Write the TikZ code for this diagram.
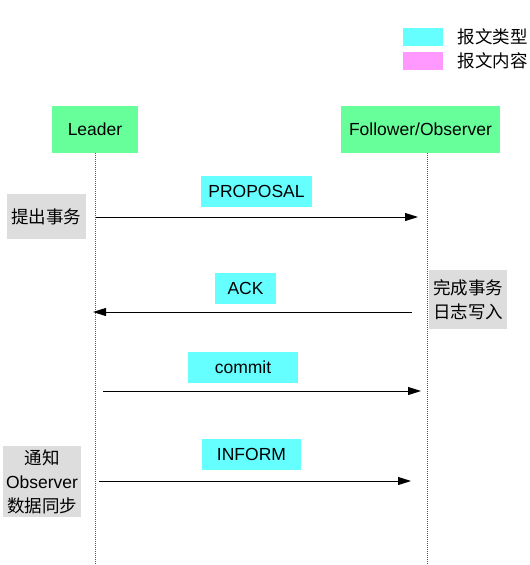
\documentclass[tikz,border=0pt]{standalone}
\usepackage{fontspec}
\setmainfont{Liberation Sans}
\newfontfamily\cjk{Noto Sans CJK SC}
\usetikzlibrary{arrows.meta}

\definecolor{actgreen}{HTML}{66FF99}
\definecolor{msgcyan}{HTML}{66FFFF}
\definecolor{msgpink}{HTML}{FF99FF}
\definecolor{notegray}{HTML}{DDDDDD}

\begin{document}
\begin{tikzpicture}[
  x=1pt, y=-1pt,
  font=\fontsize{17.5}{24}\selectfont,
  actor/.style={fill=actgreen, minimum width=86pt, minimum height=47pt, inner sep=0pt},
  msgbox/.style={fill=msgcyan, minimum height=31pt, inner sep=0pt},
  note/.style={fill=notegray, align=center, inner sep=0pt},
  legendkey/.style={minimum width=40pt, minimum height=18pt, inner sep=0pt},
  lifeline/.style={dash pattern=on 1pt off 1pt, gray!70!black, line width=0.8pt},
  msg/.style={-{Triangle[length=13pt,width=8pt]}, line width=0.9pt}
]
\useasboundingbox (0,0) rectangle (530,565);

% Legend
\node[legendkey, fill=msgcyan] (keytype) at (423,37) {};
\node[legendkey, fill=msgpink] (keycont) at (423,61) {};
\node[anchor=west] (keytypetxt) at (454,37) {\cjk 报文类型};
\node[anchor=west] (keyconttxt) at (454,61) {\cjk 报文内容};

% Actors
\node[actor] (leader) at (95,129.5) {Leader};
\node[actor, minimum width=159pt] (follower) at (420.5,129.5) {Follower/Observer};

% Lifelines
\coordinate (leadtop) at (95,153);
\coordinate (leadbot) at (95,565);
\coordinate (foltop) at (427,153);
\coordinate (folbot) at (427,565);
\draw[lifeline] (leadtop) -- (leadbot);
\draw[lifeline] (foltop) -- (folbot);

% Message labels
\node[msgbox, minimum width=111pt] (proposal) at (256.5,191.5) {PROPOSAL};
\node[msgbox, minimum width=61pt] (ack) at (245.5,288.5) {ACK};
\node[msgbox, minimum width=110pt] (commit) at (243,367.5) {commit};
\node[msgbox, minimum width=99pt] (inform) at (251.5,454.5) {INFORM};

% Notes
\node[note, minimum width=79pt, minimum height=45pt] (propose) at (46.5,216.5) {\cjk 提出事务};
\node[note, minimum width=78pt, minimum height=59pt] (logwrite) at (468,299.5) {\cjk 完成事务\\\cjk 日志写入};
\node[note, minimum width=78pt, minimum height=71pt] (sync) at (42,481.5) {\cjk 通知\\Observer\\\cjk 数据同步};

% Messages
\coordinate (m1s) at (96,217);  \coordinate (m1e) at (418,217);
\coordinate (m2s) at (412,312); \coordinate (m2e) at (93,312);
\coordinate (m3s) at (103,391); \coordinate (m3e) at (421,391);
\coordinate (m4s) at (99,481);  \coordinate (m4e) at (411,481);
\draw[msg] (m1s) -- (m1e);
\draw[msg] (m2s) -- (m2e);
\draw[msg] (m3s) -- (m3e);
\draw[msg] (m4s) -- (m4e);

\end{tikzpicture}
\end{document}
